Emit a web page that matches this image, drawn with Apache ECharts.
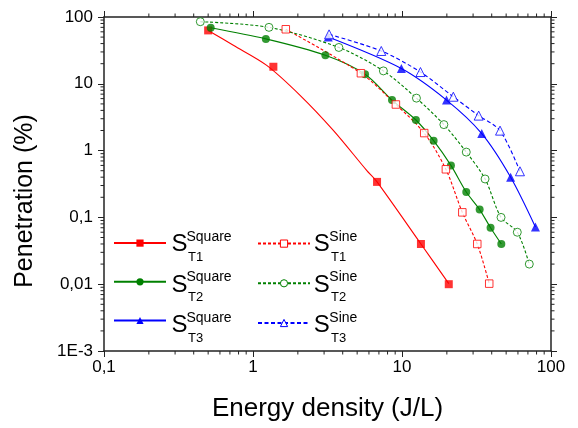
<!DOCTYPE html>
<html>
<head>
<meta charset="utf-8">
<script src="https://cdn.jsdelivr.net/npm/echarts@6/dist/echarts.min.js"></script>
<style>
  html, body { margin: 0; padding: 0; background: #fff; }
  #chart { width: 578px; height: 428px; }
</style>
</head>
<body>
<div id="chart"></div>
<script>
// Penetration vs. energy density, square and sine excitation, three configurations.
// Measured points
const t1SquareX = [0.50, 1.37, 6.8, 13.4, 20.6];
const t1SquareY = [63, 18, 0.34, 0.040, 0.010];

const t2SquareX = [0.52, 1.22, 3.06, 5.65, 8.57, 12.4, 16.3, 21.3, 27.0, 33.2, 39.3, 46.4];
const t2SquareY = [69, 47, 26.7, 13.9, 5.7, 2.87, 1.41, 0.60, 0.24, 0.131, 0.070, 0.040];

const t3SquareX = [3.2, 9.9, 19.9, 34.3, 53.6, 78.6];
const t3SquareY = [50, 16.9, 5.7, 1.8, 0.40, 0.072];

const t1SineX = [1.66, 5.3, 9.1, 14.1, 19.7, 25.4, 32.0, 38.5];
const t1SineY = [65.5, 14.4, 4.9, 1.83, 0.525, 0.119, 0.040, 0.0102];

const t2SineX = [0.443, 1.28, 3.77, 7.5, 12.5, 19.1, 27.0, 36.1, 46.2, 59.4, 71.5];
const t2SineY = [85, 70, 35, 15.6, 6.1, 2.45, 0.95, 0.376, 0.100, 0.060, 0.020];

const t3SineX = [3.24, 7.26, 13.3, 22.1, 32.7, 45.5, 61.9];
const t3SineY = [55, 31, 15, 6.4, 3.34, 1.99, 0.49];

// Fitted trend for the T1 square set (does not pass through every point)
const t1SquareFitX = [0.50, 0.738, 1.236, 2.07, 3.46, 5.79, 6.8, 13.4, 20.6];
const t1SquareFitY = [63, 37.7, 18.9, 6.73, 2.01, 0.507, 0.34, 0.040, 0.0102];

const xTickLabels = ['0,1', '1', '10', '100'];
const yTickLabels = ['1E-3', '0,01', '0,1', '1', '10', '100'];
const xMinorTicks = [0.2, 0.3, 0.4, 0.5, 0.6, 0.7, 0.8, 0.9,
                     2, 3, 4, 5, 6, 7, 8, 9,
                     20, 30, 40, 50, 60, 70, 80, 90];
const yMinorTicks = [0.002, 0.003, 0.004, 0.005, 0.006, 0.007, 0.008, 0.009,
                     0.02, 0.03, 0.04, 0.05, 0.06, 0.07, 0.08, 0.09,
                     0.2, 0.3, 0.4, 0.5, 0.6, 0.7, 0.8, 0.9,
                     2, 3, 4, 5, 6, 7, 8, 9,
                     20, 30, 40, 50, 60, 70, 80, 90];

const X_MIN = 0.1, X_MAX = 100, Y_MIN = 0.001, Y_MAX = 100;
const FONT = '"Liberation Sans", Arial, sans-serif';
const FRAME = '#222';
const RED = '#ff0000', GREEN = '#008000', BLUE = '#0000ff';

const pairs = (xs, ys) => xs.map((x, i) => [x, ys[i]]);

// One entry = trend line (carries the legend icon) + its markers
function dataset(name, lineX, lineY, ptX, ptY, color, symbol, size, hollow, dash) {
  const item = hollow
    ? { color: '#fff', borderColor: color, borderWidth: 1 }
    : { color: color, borderColor: color, borderWidth: 0 };
  return [
    {
      name: name,
      type: 'line',
      data: pairs(lineX, lineY),
      smooth: 0.3,
      symbol: symbol,
      symbolSize: size,
      showSymbol: false,
      clip: false,
      lineStyle: { color: color, width: 1.1, type: dash || 'solid' },
      itemStyle: item,
      emphasis: { disabled: true },
      z: 3
    },
    {
      name: name,
      type: 'scatter',
      data: pairs(ptX, ptY),
      symbol: symbol,
      symbolSize: size,
      clip: false,
      itemStyle: item,
      emphasis: { disabled: true },
      z: 4
    }
  ];
}

const MAJOR = 6, MINOR = 3.5;

function xMinorRender(params, api) {
  const v = api.value(0);
  const b = api.coord([v, Y_MIN]);
  const t = api.coord([v, Y_MAX]);
  const st = { stroke: FRAME, lineWidth: 1 };
  return { type: 'group', children: [
    { type: 'line', shape: { x1: b[0], y1: b[1], x2: b[0], y2: b[1] + MINOR }, style: st },
    { type: 'line', shape: { x1: t[0], y1: t[1], x2: t[0], y2: t[1] - MINOR }, style: st }
  ]};
}
function yMinorRender(params, api) {
  const v = api.value(1);
  const l = api.coord([X_MIN, v]);
  const r = api.coord([X_MAX, v]);
  const st = { stroke: FRAME, lineWidth: 1 };
  return { type: 'group', children: [
    { type: 'line', shape: { x1: l[0], y1: l[1], x2: l[0] - MINOR, y2: l[1] }, style: st },
    { type: 'line', shape: { x1: r[0], y1: r[1], x2: r[0] + MINOR, y2: r[1] }, style: st }
  ]};
}

function logAxis(extra) {
  return Object.assign({
    type: 'log',
    logBase: 10,
    splitLine: { show: false },
    axisLine: { show: true, onZero: false, lineStyle: { color: FRAME, width: 1.5 } },
    axisTick: { show: true, inside: false, length: MAJOR, lineStyle: { color: FRAME, width: 1 } },
    minorTick: { show: false }
  }, extra);
}

// legend labels: S with stacked superscript / subscript
const legendRows = [244, 284.5, 325];
const legendSubs = ['T1', 'T2', 'T3'];
const labelGraphics = [];
legendRows.forEach((cy, i) => {
  [[171.5, 186.5, 188, 'Square'], [313.8, 329.3, 331, 'Sine']].forEach(col => {
    labelGraphics.push({ type: 'text', x: col[0], y: cy + 0.7, silent: true,
      style: { text: 'S', font: '24px ' + FONT, fill: '#000', align: 'left', verticalAlign: 'middle' } });
    labelGraphics.push({ type: 'text', x: col[1], y: cy - 7, silent: true,
      style: { text: col[3], font: '14px ' + FONT, fill: '#000', align: 'left', verticalAlign: 'middle' } });
    labelGraphics.push({ type: 'text', x: col[2], y: cy + 13, silent: true,
      style: { text: legendSubs[i], font: '13px ' + FONT, fill: '#000', align: 'left', verticalAlign: 'middle' } });
  });
});

const legendBase = {
  orient: 'vertical',
  top: 239.5,
  itemWidth: 52,
  itemHeight: 9,
  itemGap: 31.5,
  selectedMode: false,
  formatter: () => '',
  textStyle: { fontSize: 6, lineHeight: 6 },
  padding: 0
};

const option = {
  animation: false,
  backgroundColor: '#fff',
  grid: { left: 104, right: 27, top: 17, bottom: 77, containLabel: false, outerBoundsMode: 'none' },
  xAxis: [
    logAxis({
      min: X_MIN, max: X_MAX, position: 'bottom',
      name: 'Energy density (J/L)', nameLocation: 'middle', nameGap: 45,
      nameTextStyle: { fontFamily: FONT, fontSize: 26, color: '#000' },
      axisLabel: { margin: 8, fontFamily: FONT, fontSize: 17, color: '#000',
        formatter: v => xTickLabels[Math.round(Math.log10(v)) + 1] }
    }),
    logAxis({ min: X_MIN, max: X_MAX, position: 'top', axisLabel: { show: false } })
  ],
  yAxis: [
    logAxis({
      min: Y_MIN, max: Y_MAX, position: 'left',
      name: 'Penetration (%)', nameLocation: 'middle', nameGap: 66,
      nameTextStyle: { fontFamily: FONT, fontSize: 25, color: '#000', padding: [0, 34, 0, 0] },
      axisLabel: { margin: 11, fontFamily: FONT, fontSize: 17, color: '#000',
        formatter: v => yTickLabels[Math.round(Math.log10(v)) + 3] }
    }),
    logAxis({ min: Y_MIN, max: Y_MAX, position: 'right', axisLabel: { show: false } })
  ],
  legend: [
    Object.assign({}, legendBase, { left: 113, data: ['S T1 Square', 'S T2 Square', 'S T3 Square'] }),
    Object.assign({}, legendBase, { left: 257, itemStyle: { borderWidth: 1 },
      data: ['S T1 Sine', 'S T2 Sine', 'S T3 Sine'] })
  ],
  graphic: labelGraphics,
  series: [].concat(
    dataset('S T1 Square', t1SquareFitX, t1SquareFitY, t1SquareX, t1SquareY, RED, 'rect', 8, false),
    dataset('S T2 Square', t2SquareX, t2SquareY, t2SquareX, t2SquareY, GREEN, 'circle', 8, false),
    dataset('S T3 Square', t3SquareX, t3SquareY, t3SquareX, t3SquareY, BLUE, 'triangle', 9, false),
    dataset('S T1 Sine', t1SineX, t1SineY, t1SineX, t1SineY, RED, 'rect', 7.5, true, [3, 2]),
    dataset('S T2 Sine', t2SineX, t2SineY, t2SineX, t2SineY, GREEN, 'circle', 8, true, [3, 2]),
    dataset('S T3 Sine', t3SineX, t3SineY, t3SineX, t3SineY, BLUE, 'triangle', 9, true, [4, 2.5]),
    [
      {
        type: 'custom', silent: true, clip: false, z: 5,
        data: xMinorTicks.map(v => [v, Y_MIN]),
        renderItem: xMinorRender
      },
      {
        type: 'custom', silent: true, clip: false, z: 5,
        data: yMinorTicks.map(v => [X_MIN, v]),
        renderItem: yMinorRender
      }
    ]
  )
};

const chart = echarts.init(document.getElementById('chart'), null, { renderer: 'canvas' });
chart.setOption(option);
</script>
</body>
</html>
